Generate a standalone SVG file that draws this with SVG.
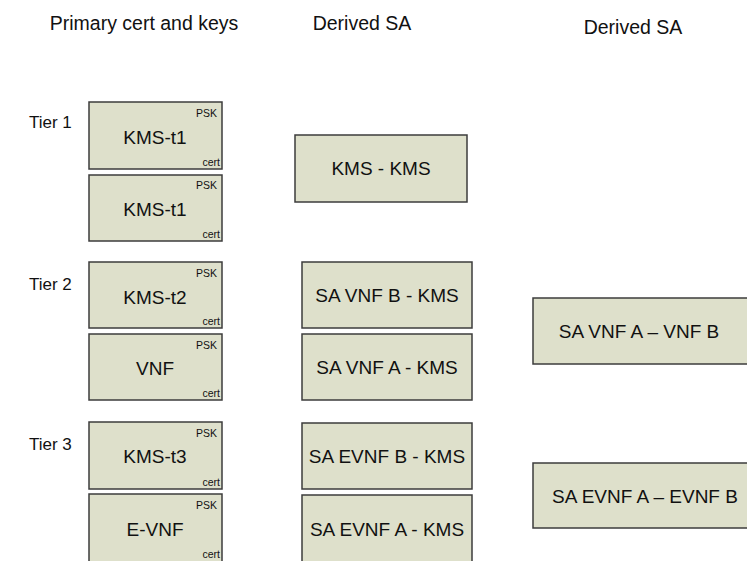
<svg xmlns="http://www.w3.org/2000/svg" width="747" height="561" viewBox="0 0 747 561">
<style>
.b{fill:#dee0cb;stroke:#3c3c3c;stroke-width:1.5}
.h{font-family:"Liberation Sans",Arial,sans-serif;font-size:19.5px;fill:#111}
.r{font-family:"Liberation Sans",Arial,sans-serif;font-size:17px;fill:#111}
.t{font-family:"Liberation Sans",Arial,sans-serif;font-size:19px;fill:#111;text-anchor:middle}
.s{font-family:"Liberation Sans",Arial,sans-serif;font-size:10.5px;fill:#111;text-anchor:end}
</style>
<rect width="747" height="561" fill="#fff"/>
<g id="headings">
<text class="h" x="144" y="30" text-anchor="middle">Primary cert and keys</text>
<text class="h" x="362" y="30" text-anchor="middle">Derived SA</text>
<text class="h" x="633" y="34" text-anchor="middle">Derived SA</text>
<text class="r" x="29" y="128">Tier 1</text>
<text class="r" x="29" y="290">Tier 2</text>
<text class="r" x="29" y="450">Tier 3</text>
</g>
<g id="kms-t1-a"><rect class="b" x="89" y="102" width="133" height="67"/><text class="t" x="155" y="144">KMS-t1</text><text class="s" x="217" y="117">PSK</text><text class="s" x="220" y="166">cert</text></g>
<g id="kms-t1-b"><rect class="b" x="89" y="175" width="133" height="66"/><text class="t" x="155" y="216">KMS-t1</text><text class="s" x="217" y="189">PSK</text><text class="s" x="220" y="238">cert</text></g>
<g id="kms-t2"><rect class="b" x="89" y="262" width="133" height="66"/><text class="t" x="155" y="304">KMS-t2</text><text class="s" x="217" y="277">PSK</text><text class="s" x="220" y="325">cert</text></g>
<g id="vnf"><rect class="b" x="89" y="334" width="133" height="66"/><text class="t" x="155" y="375">VNF</text><text class="s" x="217" y="349">PSK</text><text class="s" x="220" y="397">cert</text></g>
<g id="kms-t3"><rect class="b" x="89" y="422" width="133" height="67"/><text class="t" x="155" y="463">KMS-t3</text><text class="s" x="217" y="437">PSK</text><text class="s" x="220" y="486">cert</text></g>
<g id="e-vnf"><rect class="b" x="89" y="494" width="133" height="80"/><text class="t" x="155" y="536">E-VNF</text><text class="s" x="217" y="509">PSK</text><text class="s" x="220" y="558">cert</text></g>
<g id="kms-kms"><rect class="b" x="295" y="135" width="172" height="67"/><text class="t" x="381" y="175">KMS - KMS</text></g>
<g id="sa-vnf-b-kms"><rect class="b" x="302" y="262" width="170" height="66"/><text class="t" x="387" y="302">SA VNF B - KMS</text></g>
<g id="sa-vnf-a-kms"><rect class="b" x="302" y="334" width="170" height="66"/><text class="t" x="387" y="374">SA VNF A - KMS</text></g>
<g id="sa-evnf-b-kms"><rect class="b" x="302" y="423" width="170" height="66"/><text class="t" x="387" y="463">SA EVNF B - KMS</text></g>
<g id="sa-evnf-a-kms"><rect class="b" x="302" y="495" width="170" height="80"/><text class="t" x="387" y="536">SA EVNF A - KMS</text></g>
<g id="sa-vnf-a-vnf-b"><rect class="b" x="533" y="298" width="230" height="66"/><text class="t" x="639" y="338">SA VNF A – VNF B</text></g>
<g id="sa-evnf-a-evnf-b"><rect class="b" x="533" y="463" width="230" height="65"/><text class="t" x="645" y="503">SA EVNF A – EVNF B</text></g>
<g id="connectors"/>
</svg>
